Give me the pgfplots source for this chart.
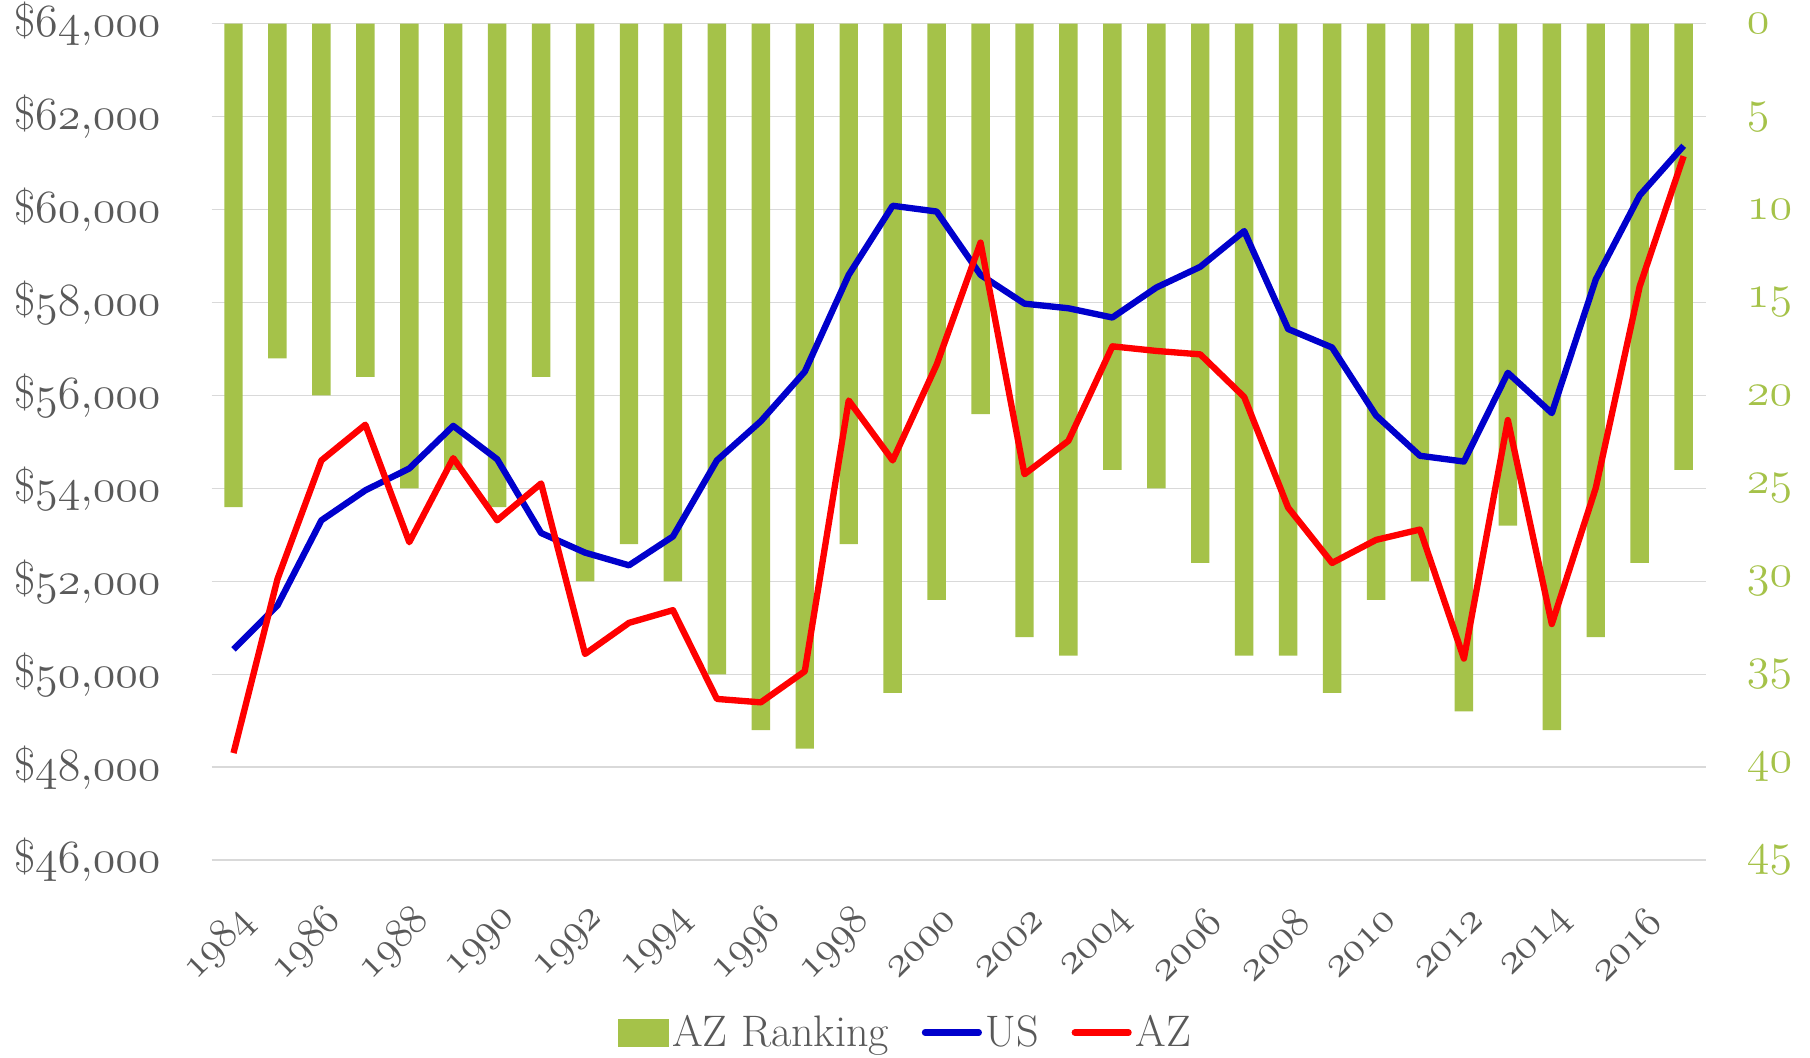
\RequirePackage{fix-cm}
\documentclass[border=0pt]{standalone}
\usepackage{pgfplots}
\pgfplotsset{compat=1.18}
\definecolor{bargreen}{HTML}{A5C249}
\definecolor{txtgray}{HTML}{595959}
\definecolor{usblue}{HTML}{0000CC}
\definecolor{azred}{HTML}{FF0000}
\definecolor{gridgray}{HTML}{D9D9D9}
\newcommand\osn[1]{\ensuremath{\mathnormal{#1}}}
\begin{document}
\begin{tikzpicture}[font=\fontsize{24}{28}\selectfont]
\begin{axis}[
  width=778pt, height=435.6pt, scale only axis,
  xmin=1983.5, xmax=2017.5,
  ymin=0, ymax=45, y dir=reverse,
  scaled y ticks=false, scaled x ticks=false,
  axis y line*=right, axis x line*=bottom,
  axis line style={draw=none},
  major tick length=0pt,
  ytick={0,5,...,45},
  yticklabels={\osn{0},\osn{5},\osn{10},\osn{15},\osn{20},\osn{25},\osn{30},\osn{35},\osn{40},\osn{45}},
  yticklabel style={text=bargreen, anchor=west, xshift=18pt, inner ysep=1pt},
  xtick={1984,1986,...,2016},
  xticklabels={\osn{1984},\osn{1986},\osn{1988},\osn{1990},\osn{1992},\osn{1994},\osn{1996},\osn{1998},\osn{2000},\osn{2002},\osn{2004},\osn{2006},\osn{2008},\osn{2010},\osn{2012},\osn{2014},\osn{2016}},
  xticklabel style={text=txtgray, font=\fontsize{22}{26}\selectfont, xshift=10pt, yshift=-26pt, rotate=45, anchor=east},
  ymajorgrids, grid style={gridgray, line width=0.8pt},
  ybar, bar width=9.6pt, bar shift=0pt,
]
\addplot[fill=bargreen, draw=none] coordinates {
(1984,26) (1985,18) (1986,20) (1987,19) (1988,25) (1989,24) (1990,26) (1991,19)
(1992,30) (1993,28) (1994,30) (1995,35) (1996,38) (1997,39) (1998,28) (1999,36)
(2000,31) (2001,21) (2002,33) (2003,34) (2004,24) (2005,25) (2006,29) (2007,34)
(2008,34) (2009,36) (2010,31) (2011,30) (2012,37) (2013,27) (2014,38) (2015,33)
(2016,29) (2017,24)};
\end{axis}
\begin{axis}[
  width=778pt, height=435.6pt, scale only axis,
  xmin=1983.5, xmax=2017.5,
  ymin=46000, ymax=64000,
  scaled y ticks=false,
  axis y line*=left, axis x line=none,
  axis line style={draw=none},
  major tick length=0pt,
  ytick={46000,48000,...,64000},
  yticklabels={{\$\osn{46{,}000}},{\$\osn{48{,}000}},{\$\osn{50{,}000}},{\$\osn{52{,}000}},{\$\osn{54{,}000}},{\$\osn{56{,}000}},{\$\osn{58{,}000}},{\$\osn{60{,}000}},{\$\osn{62{,}000}},{\$\osn{64{,}000}}},
  yticklabel style={text=txtgray, anchor=east, xshift=-23pt, inner ysep=1pt},
  legend style={draw=none, fill=none, at={(0.465,-0.206)}, anchor=center,
    legend columns=-1, text=txtgray, font=\fontsize{23}{26}\selectfont,
    /tikz/every even column/.append style={column sep=15pt}},
  legend cell align=left,
]
\addlegendimage{legend image code/.code={\fill[bargreen] (0pt,-7pt) rectangle (26pt,7pt);}}
\addlegendentry{AZ Ranking}
\addplot[usblue, line width=3.3pt, line join=round,
  legend image code/.code={\draw[usblue, line width=3.3pt, line cap=round] (0pt,0pt) -- (28pt,0pt);}]
coordinates {
(1984,50536) (1985,51480) (1986,53313) (1987,53958) (1988,54429) (1989,55346)
(1990,54627) (1991,53040) (1992,52618) (1993,52345) (1994,52966) (1995,54602)
(1996,55446) (1997,56512) (1998,58595) (1999,60082) (2000,59958) (2001,58595)
(2002,57975) (2003,57876) (2004,57677) (2005,58322) (2006,58768) (2007,59537)
(2008,57429) (2009,57032) (2010,55570) (2011,54702) (2012,54578) (2013,56487)
(2014,55620) (2015,58495) (2016,60305) (2017,61372)};
\addlegendentry{US}
\addplot[azred, line width=3.3pt, line join=round,
  legend image code/.code={\draw[azred, line width=3.3pt, line cap=round] (0pt,0pt) -- (28pt,0pt);}]
coordinates {
(1984,48305) (1985,52049) (1986,54602) (1987,55371) (1988,52842) (1989,54652)
(1990,53313) (1991,54107) (1992,50437) (1993,51107) (1994,51380) (1995,49470)
(1996,49396) (1997,50065) (1998,55892) (1999,54602) (2000,56660) (2001,59289)
(2002,54305) (2003,55024) (2004,57057) (2005,56958) (2006,56884) (2007,55966)
(2008,53586) (2009,52396) (2010,52892) (2011,53115) (2012,50338) (2013,55470)
(2014,51082) (2015,54007) (2016,58347) (2017,61149)};
\addlegendentry{AZ}
\end{axis}
\path ([xshift=6pt]current bounding box.east);
\path ([xshift=-4pt]current bounding box.west);
\end{tikzpicture}
\end{document}
